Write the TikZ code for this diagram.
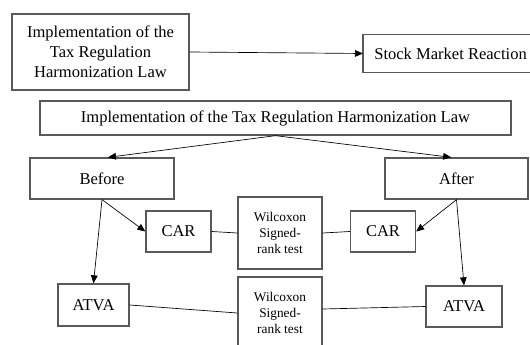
\documentclass[tikz,border=0pt]{standalone}
\usepackage{fontspec}
\setmainfont{Liberation Serif}
\usetikzlibrary{arrows.meta}
\begin{document}
\begin{tikzpicture}[x=0.75pt,y=-0.75pt,
	box/.style={draw=black!65, line width=1pt, fill=white, align=center, inner sep=0pt, font=\fontsize{12.4}{15}\selectfont},
	testbox/.style={box, minimum width=63pt, minimum height=54pt, font=\fontsize{10}{12.2}\selectfont},
	arr/.style={-{Triangle[length=6pt,width=5pt]}, line width=0.5pt},
	link/.style={line width=0.5pt}]
	\useasboundingbox (0,0) rectangle (530,345);
	% top row
	\node[box, minimum width=132.75pt, minimum height=57pt] (impl) at (100.5,52) {Implementation of the\\Tax Regulation\\Harmonization Law};
	\node[box, draw=none, anchor=west, minimum height=27.75pt, inner xsep=8pt] (stock) at (363,53.5) {Stock Market Reaction};
	\draw[draw=black!65, line width=1pt] (stock.south west) rectangle ([xshift=15pt]stock.north east); % runs past the edge
	\draw[arr] (impl.east) -- (stock.west);
	% second part
	\node[box, minimum width=353.25pt, minimum height=25.5pt] (law) at (275.5,118) {Implementation of the Tax Regulation Harmonization Law};
	\node[box, minimum width=108pt, minimum height=30.75pt] (before) at (102,178.5) {Before};
	\node[box, minimum width=107.25pt, minimum height=30.75pt] (after) at (456.5,178.5) {After};
	\draw[arr] (law.south) -- ([xshift=4.5pt]before.north);
	\draw[arr] (law.south) -- ([xshift=-4pt]after.north);
	% CAR row
	\node[box, minimum width=48.75pt, minimum height=30.75pt] (carL) at (178.5,231.5) {CAR};
	\node[box, minimum width=48.75pt, minimum height=30.75pt] (carR) at (383,231.5) {CAR};
	\node[testbox] (wilT) at (280,233) {Wilcoxon\\Signed-\\rank test};
	% ATVA row
	\node[box, minimum width=53.25pt, minimum height=31.5pt] (atvaL) at (93.5,305) {ATVA};
	\node[box, minimum width=57pt, minimum height=30.75pt] (atvaR) at (464,306.5) {ATVA};
	\node[testbox] (wilB) at (280,313) {Wilcoxon\\Signed-\\rank test};
	\draw[arr] (before.south) -- (carL.west);
	\draw[arr] (before.south) -- (atvaL.north);
	\draw[arr] (after.south) -- (carR.east);
	\draw[arr] (after.south) -- (atvaR.north);
	\draw[link] (carL.east) -- (wilT.west);
	\draw[link] (carR.west) -- (wilT.east);
	\draw[link] (atvaL.east) -- (wilB.west);
	\draw[link] (atvaR.west) -- ([yshift=3pt]wilB.east);
\end{tikzpicture}
\end{document}
